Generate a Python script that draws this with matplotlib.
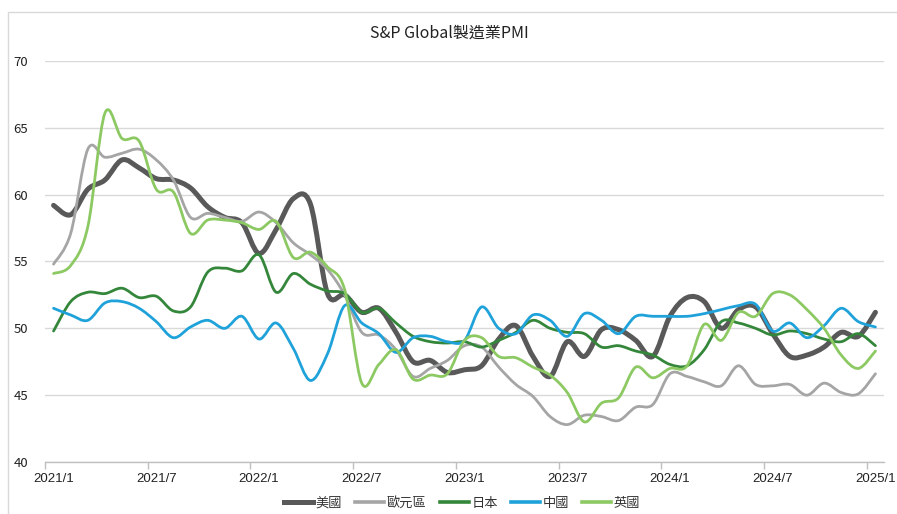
import numpy as np
import matplotlib
matplotlib.use("Agg")
import matplotlib.pyplot as plt
from matplotlib.path import Path
from matplotlib.patches import PathPatch, Rectangle
from matplotlib.lines import Line2D

plt.rcParams['font.family'] = ['Noto Sans CJK TC', 'DejaVu Sans']

months = [f"{y}/{m}" for y in range(2021, 2026) for m in range(1, 13)][:49]
tick_labels = ["2021/1", "2021/7", "2022/1", "2022/7", "2023/1",
               "2023/7", "2024/1", "2024/7", "2025/1"]

us = [59.2, 58.5, 60.4, 61.1, 62.6, 62.0, 61.2, 61.1, 60.5, 59.1, 58.3, 57.9,
      55.6, 57.4, 59.7, 59.3, 52.6, 52.5, 51.2, 51.5, 49.7, 47.5, 47.6, 46.7,
      46.9, 47.2, 49.2, 50.2, 47.9, 46.4, 49.0, 47.9, 49.9, 49.9, 49.1, 47.9,
      50.9, 52.3, 52.0, 50.0, 51.4, 51.6, 49.6, 47.9, 48.0, 48.6, 49.7, 49.4,
      51.2]
ez = [54.8, 57.1, 63.4, 62.8, 63.1, 63.4, 62.6, 61.1, 58.3, 58.6, 58.3, 58.0,
      58.7, 57.9, 56.4, 55.5, 54.4, 52.5, 49.7, 49.5, 48.4, 46.4, 47.0, 47.6,
      48.7, 48.6, 47.1, 45.8, 44.9, 43.4, 42.8, 43.5, 43.4, 43.1, 44.1, 44.3,
      46.6, 46.4, 46.0, 45.7, 47.2, 45.8, 45.7, 45.8, 45.0, 45.9, 45.2, 45.1,
      46.6]
jp = [49.8, 52.0, 52.7, 52.6, 53.0, 52.3, 52.4, 51.3, 51.6, 54.2, 54.5, 54.3,
      55.5, 52.7, 54.1, 53.3, 52.8, 52.6, 51.2, 51.5, 50.4, 49.4, 49.0, 48.9,
      49.0, 48.6, 49.1, 49.7, 50.6, 50.0, 49.7, 49.6, 48.6, 48.7, 48.3, 48.0,
      47.3, 47.2, 48.4, 50.5, 50.4, 50.0, 49.5, 49.8, 49.6, 49.2, 49.0, 49.6,
      48.7]
cn = [51.5, 51.0, 50.6, 51.9, 52.0, 51.5, 50.5, 49.3, 50.1, 50.6, 50.0, 50.9,
      49.2, 50.4, 48.5, 46.1, 48.1, 51.7, 50.4, 49.6, 48.2, 49.3, 49.4, 49.0,
      49.1, 51.6, 50.0, 49.6, 51.0, 50.6, 49.4, 51.1, 50.6, 49.6, 50.9, 50.9,
      50.9, 50.9, 51.1, 51.4, 51.7, 51.8, 49.8, 50.4, 49.3, 50.2, 51.5, 50.5,
      50.1]
uk = [54.1, 54.7, 57.6, 66.1, 64.2, 64.0, 60.4, 60.2, 57.1, 58.1, 58.1, 57.9,
      57.4, 58.0, 55.3, 55.7, 54.6, 52.9, 45.9, 47.3, 48.4, 46.2, 46.5, 46.6,
      49.1, 49.3, 47.9, 47.8, 47.1, 46.5, 45.2, 43.0, 44.4, 44.8, 47.1, 46.3,
      47.0, 47.2, 50.3, 49.1, 51.2, 50.9, 52.6, 52.5, 51.4, 50.0, 48.0, 47.0,
      48.3]

series = [
    ("美國", us, "#595959", 3.6),
    ("歐元區", ez, "#A5A5A5", 2.0),
    ("日本", jp, "#34873A", 2.0),
    ("中國", cn, "#1FA2DA", 2.0),
    ("英國", uk, "#8DC963", 2.0),
]


def smooth_path(x, y, t=1/6):
    x = np.asarray(x, float)
    y = np.asarray(y, float)
    n = len(x)
    verts = [(x[0], y[0])]
    codes = [Path.MOVETO]
    for i in range(n - 1):
        p0 = np.array([x[max(i - 1, 0)], y[max(i - 1, 0)]])
        p1 = np.array([x[i], y[i]])
        p2 = np.array([x[i + 1], y[i + 1]])
        p3 = np.array([x[min(i + 2, n - 1)], y[min(i + 2, n - 1)]])
        c1 = p1 + (p2 - p0) * t
        c2 = p2 - (p3 - p1) * t
        verts += [tuple(c1), tuple(c2), tuple(p2)]
        codes += [Path.CURVE4] * 3
    return Path(verts, codes)


fig = plt.figure(figsize=(8.97, 5.14), dpi=100)
fig.patch.set_facecolor("white")
fig.patches.append(Rectangle((8 / 897, -0.1), 1.2, 1 - 12 / 514 + 0.1,
                             transform=fig.transFigure, fill=False,
                             edgecolor="#D9D9D9", linewidth=1.0))

ax = fig.add_axes([45 / 897, 1 - 462 / 514, 839 / 897, 401 / 514])
x = np.arange(len(months))

for name, vals, color, lw in series:
    p = smooth_path(x, vals)
    ax.add_patch(PathPatch(p, facecolor="none", edgecolor=color, linewidth=lw,
                           capstyle="round", joinstyle="round", zorder=3))

ax.set_xlim(-0.5, len(months) - 0.5)
ax.set_ylim(40, 70)
ax.set_yticks([40, 45, 50, 55, 60, 65, 70])
ax.yaxis.grid(True, color="#D9D9D9", linewidth=1.0)
ax.set_axisbelow(True)
for s in ["left", "right", "top"]:
    ax.spines[s].set_visible(False)
ax.spines["bottom"].set_color("#BFBFBF")
ax.spines["bottom"].set_linewidth(1.0)
ax.tick_params(axis="y", length=0, pad=12, labelsize=9.5, labelcolor="#222222")

label_pos = [months.index(t) for t in tick_labels]
ax.set_xticks(label_pos)
ax.set_xticklabels(tick_labels)
ax.tick_params(axis="x", which="major", length=0, pad=8, labelsize=9.5,
               labelcolor="#222222")
ax.set_xticks([p - 0.5 for p in label_pos], minor=True)
ax.tick_params(axis="x", which="minor", length=5, color="#BFBFBF", width=1.0)
for lab in ax.get_xticklabels():
    lab.set_fontfamily(['Liberation Sans Narrow', 'Liberation Sans', 'DejaVu Sans'])

fig.text(449 / 897, 1 - 33 / 514, "S&P Global製造業PMI", ha="center",
         va="center", fontsize=11.5, color="#222222")

handles = [Line2D([0], [0], color=c, linewidth=(3.6 if i == 0 else 2.6))
           for i, (n, v, c, lw) in enumerate(series)]
leg = fig.legend(handles, [s[0] for s in series], loc="center",
                 bbox_to_anchor=(462 / 897, 1 - 503 / 514), ncol=5,
                 frameon=False, fontsize=9.5, handlelength=2.2,
                 handletextpad=0.2, columnspacing=1.0)
for t in leg.get_texts():
    t.set_color("#333333")

fig.savefig("out.png", dpi=100, facecolor="white")
